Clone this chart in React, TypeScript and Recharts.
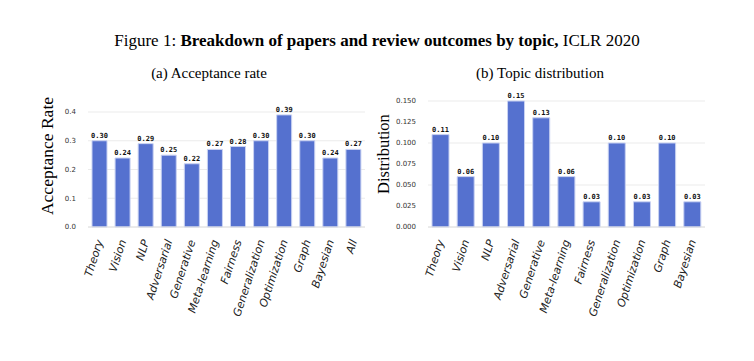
import { BarChart, Bar, XAxis, YAxis, CartesianGrid, LabelList } from 'recharts';

const topicsA = ['Theory', 'Vision', 'NLP', 'Adversarial', 'Generative', 'Meta-learning', 'Fairness', 'Generalization', 'Optimization', 'Graph', 'Bayesian', 'All'];
const acceptance = [0.30, 0.24, 0.29, 0.25, 0.22, 0.27, 0.28, 0.30, 0.39, 0.30, 0.24, 0.27];

const topicsB = ['Theory', 'Vision', 'NLP', 'Adversarial', 'Generative', 'Meta-learning', 'Fairness', 'Generalization', 'Optimization', 'Graph', 'Bayesian'];
const distribution = [0.11, 0.06, 0.10, 0.15, 0.13, 0.06, 0.03, 0.10, 0.03, 0.10, 0.03];

const ticksA = [0, 0.1, 0.2, 0.3, 0.4];
const ticksB = [0, 0.025, 0.05, 0.075, 0.1, 0.125, 0.15];

const dataA = topicsA.map((name, i) => ({ name, value: acceptance[i] }));
const dataB = topicsB.map((name, i) => ({ name, value: distribution[i] }));

const BAR = '#5571cf';
const SERIF = '"Liberation Serif", "Times New Roman", serif';
const SANS = '"DejaVu Sans", sans-serif';

function RotatedTick({ x, y, payload }: any) {
  return (
    <text
      transform={`translate(${x},${y + 5}) rotate(-72)`}
      textAnchor="end"
      dy="0.35em"
      fontSize={11}
      fontStyle="italic"
      fontFamily={SANS}
      fill="#222"
    >
      {payload.value}
    </text>
  );
}

function Panel({ data, ticks, max, digits, height, top }: any) {
  return (
    <BarChart
      width={345}
      height={height}
      data={data}
      margin={{ top, right: 10, left: 28, bottom: 8 }}
      barCategoryGap={4}
    >
      <CartesianGrid vertical={false} stroke="#ebebeb" />
      <XAxis
        dataKey="name"
        interval={0}
        height={95}
        tickLine={false}
        axisLine={{ stroke: '#e0e0e0' }}
        tick={<RotatedTick />}
      />
      <YAxis
        width={30}
        domain={[0, max]}
        ticks={ticks}
        axisLine={false}
        tickLine={false}
        tickMargin={6}
        tickFormatter={(v: number) => v.toFixed(digits)}
        tick={{ fontSize: 7, fill: '#333', fontFamily: SANS }}
      />
      <Bar dataKey="value" fill={BAR} stroke="#c9d2f2" strokeWidth={1} isAnimationActive={false}>
        <LabelList
          dataKey="value"
          position="top"
          offset={3}
          formatter={(v: number) => v.toFixed(2)}
          style={{ fontSize: 7, fill: '#111', fontFamily: '"DejaVu Sans Mono", monospace', fontWeight: 'bold' }}
        />
      </Bar>
    </BarChart>
  );
}

export default function App() {
  return (
    <div style={{ position: 'absolute', left: 0, top: 0, width: 754, height: 361, background: '#fff', fontFamily: SERIF, color: '#000' }}>
      <div style={{ position: 'absolute', top: 31, left: 0, width: 754, textAlign: 'center', fontSize: 17 }}>
        Figure 1: <b>Breakdown of papers and review outcomes by topic,</b> ICLR 2020
      </div>
      <div style={{ position: 'absolute', top: 65, left: 109, width: 200, textAlign: 'center', fontSize: 15 }}>
        (a) Acceptance rate
      </div>
      <div style={{ position: 'absolute', top: 65, left: 440, width: 200, textAlign: 'center', fontSize: 15 }}>
        (b) Topic distribution
      </div>
      <div style={{ position: 'absolute', left: 47, top: 156, width: 0, height: 0 }}>
        <div style={{ position: 'absolute', transform: 'translate(-50%, -50%) rotate(-90deg)', whiteSpace: 'nowrap', fontSize: 17.5 }}>
          Acceptance Rate
        </div>
      </div>
      <div style={{ position: 'absolute', left: 384, top: 154, width: 0, height: 0 }}>
        <div style={{ position: 'absolute', transform: 'translate(-50%, -50%) rotate(-90deg)', whiteSpace: 'nowrap', fontSize: 16.5 }}>
          Distribution
        </div>
      </div>
      <div style={{ position: 'absolute', left: 30, top: 90 }}>
        <Panel data={dataA} ticks={ticksA} max={0.4} digits={1} height={240} top={22} />
      </div>
      <div style={{ position: 'absolute', left: 370, top: 80 }}>
        <Panel data={dataB} ticks={ticksB} max={0.15} digits={3} height={250} top={21} />
      </div>
    </div>
  );
}
